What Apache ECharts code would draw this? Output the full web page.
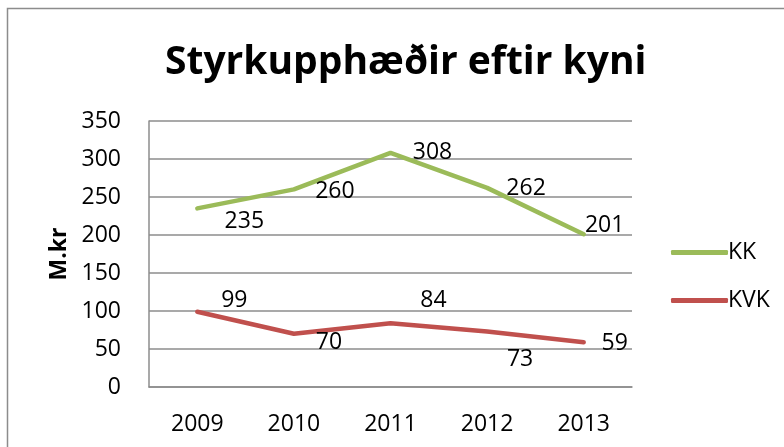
<!DOCTYPE html>
<html><head><meta charset="utf-8">
<script src="https://cdn.jsdelivr.net/npm/echarts@6/dist/echarts.min.js"></script>
<style>html,body{margin:0;padding:0;background:#fff}#c{width:784px;height:447px}</style>
</head><body><div id="c"></div>
<script>
const years = ['2009','2010','2011','2012','2013'];
const kk = [235, 260, 308, 262, 201];
const kvk = [99, 70, 84, 73, 59];
const yTicks = [0, 50, 100, 150, 200, 250, 300, 350];
// label placement (pixel offsets from each point), layout only
const kkLabelOffsets = [[47,13],[41,2],[42,0],[39,1],[21,-9]];
const kvkLabelOffsets = [[37,-11],[35,9],[43,-23],[33,28],[31,1]];

const FONT = '"Open Sans", "Noto Sans", sans-serif';
const GREEN = '#9BBB59', RED = '#C0504D';
const chart = echarts.init(document.getElementById('c'), null, {renderer:'canvas'});
function mk(vals, offs){
  return vals.map((v,i)=>({value:v, label:{offset:offs[i]}}));
}
const labelStyle = {show:true, position:'inside', fontFamily:FONT, fontSize:23, color:'#000', opacity:1, align:'center', verticalAlign:'middle'};
chart.setOption({
  animation:false,
  title:{text:'Styrkupphæðir eftir kyni', left:160, top:38,
    textStyle:{fontFamily:FONT, fontWeight:'bold', fontSize:39, color:'#000'}},
  graphic:[{type:'rect', shape:{x:7.5,y:8.5,width:900,height:700},
    style:{fill:'none', stroke:'#8c8c8c', lineWidth:1.5}}],
  legend:{orient:'vertical', left:666, top:236, itemWidth:57, itemHeight:5, itemGap:25,
    icon:'roundRect',
    textStyle:{fontFamily:FONT, fontSize:23, color:'#000', padding:[0,0,0,-5]},
    data:[{name:'KK', itemStyle:{color:GREEN, opacity:1}}, {name:'KVK', itemStyle:{color:RED, opacity:1}}]},
  grid:{left:149, right:152, top:121, bottom:60},
  xAxis:{type:'category', data:years, boundaryGap:true,
    axisLine:{lineStyle:{color:'#8c8c8c', width:1.5}},
    axisTick:{show:false},
    axisLabel:{fontFamily:FONT, fontSize:23, color:'#000', margin:26}},
  yAxis:{type:'value', min:yTicks[0], max:yTicks[yTicks.length-1], interval:50,
    name:'M.kr', nameLocation:'middle', nameRotate:90, nameGap:75,
    nameTextStyle:{fontFamily:FONT, fontWeight:'bold', fontSize:23, color:'#000'},
    axisLine:{show:true, lineStyle:{color:'#8c8c8c', width:1.5}},
    axisTick:{show:false},
    splitLine:{lineStyle:{color:'#8c8c8c', width:1.5}},
    axisLabel:{fontFamily:FONT, fontSize:23, color:'#000', margin:28}},
  series:[
    {name:'KK', type:'line', data:mk(kk,kkLabelOffsets), showSymbol:true, symbol:'circle', symbolSize:1,
      itemStyle:{color:'rgba(0,0,0,0)'},
      lineStyle:{width:4.5, color:GREEN, cap:'round', join:'round'},
      label:labelStyle},
    {name:'KVK', type:'line', data:mk(kvk,kvkLabelOffsets), showSymbol:true, symbol:'circle', symbolSize:1,
      itemStyle:{color:'rgba(0,0,0,0)'},
      lineStyle:{width:4.5, color:RED, cap:'round', join:'round'},
      label:labelStyle}
  ]
});
</script></body></html>
